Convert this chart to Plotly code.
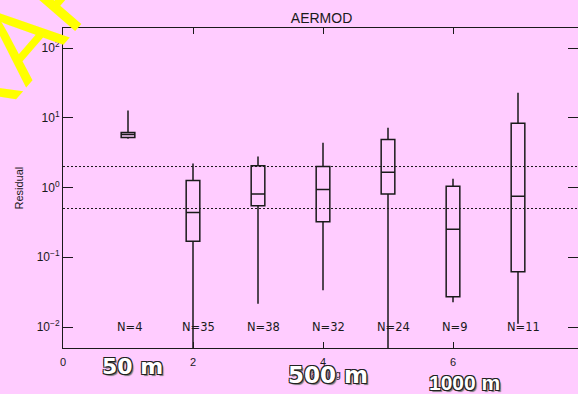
import plotly.graph_objects as go

# ---- data ----
groups = [1, 2, 3, 4, 5, 6, 7]
whisker_high = [12.7, 2.21, 2.78, 4.4, 7.2, 1.33, 22.8]
q3_vals = [6.15, 1.26, 2.05, 2.0, 4.88, 1.04, 8.35]
medians = [5.75, 0.44, 0.81, 0.94, 1.66, 0.252, 0.75]
q1_vals = [5.2, 0.17, 0.547, 0.322, 0.81, 0.0271, 0.0618]
whisker_low = [5.0, 0.001, 0.0215, 0.0337, 0.001, 0.0227, 0.0111]
counts = [4, 35, 38, 32, 24, 9, 11]
ref_lines = [2.0, 0.5]
xticks = [0, 2, 4, 6]
yticks = [1e-2, 1e-1, 1e0, 1e1, 1e2]
ytick_text = ["10<sup>−2</sup>", "10<sup>−1</sup>", "10<sup>0</sup>",
              "10<sup>1</sup>", "10<sup>2</sup>"]
distance_labels = ["50 m", "500 m", "1000 m"]

BG = "#FFCCFF"
INK = "#1a1a1a"
SANS = "Liberation Sans, Arial, sans-serif"

fig = go.Figure()

fig.add_trace(go.Box(
    x=groups, q1=q1_vals, median=medians, q3=q3_vals,
    lowerfence=whisker_low, upperfence=whisker_high,
    boxpoints=False, width=0.21, whiskerwidth=0,
    line=dict(color=INK, width=1.5), fillcolor="rgba(0,0,0,0)",
    showlegend=False, hoverinfo="skip"))

for v in ref_lines:
    fig.add_trace(go.Scatter(
        x=[0, 8], y=[v, v], mode="lines",
        line=dict(color=INK, width=1, dash="2px,2px"),
        showlegend=False, hoverinfo="skip"))

annotations = []
# yellow watermark (drawn first, behind other labels)
annotations.append(dict(
    x=-0.0944, y=0.936, xref="paper", yref="paper", text="DRAFT",
    showarrow=False, textangle=-49, xanchor="center", yanchor="middle",
    font=dict(family=SANS, size=100, color="#FFFF00")))

# N labels
for g, n in zip(groups, counts):
    annotations.append(dict(
        x=g, y=-2, xref="x", yref="y", text=f"N={n}", showarrow=False,
        xanchor="left", yanchor="middle", xshift=-13,
        font=dict(family="DejaVu Sans", size=11.5, color=INK)))

# axis titles
annotations.append(dict(
    x=0, y=0.5, xref="paper", yref="paper", text="Residual", showarrow=False,
    textangle=-90, xanchor="center", yanchor="middle", xshift=-44.5,
    font=dict(family=SANS, size=11, color=INK)))
annotations.append(dict(
    x=0.503, y=-0.084, xref="paper", yref="paper", text="Ranking",
    showarrow=False, xanchor="center", yanchor="middle",
    font=dict(family=SANS, size=10, color=INK)))

# distance labels (white, outlined)
shadow = ("-1px -1px 0 #222, 1px -1px 0 #222, -1px 1px 0 #222, "
          "1px 1px 0 #222, 2px 2px 1px #777")
dist_pos = [(0.135, -0.059, "DejaVu Sans", 22),
            (0.5136, -0.084, "DejaVu Sans", 23),
            (0.78, -0.109, "Liberation Sans", 21)]
for lbl, (px, py, fam, sz) in zip(distance_labels, dist_pos):
    annotations.append(dict(
        x=px, y=py, xref="paper", yref="paper", text=f"<b>{lbl}</b>",
        showarrow=False, xanchor="center", yanchor="middle",
        font=dict(family=fam, size=sz, color="white", shadow=shadow)))

fig.update_layout(
    width=578, height=394,
    margin=dict(l=63, r=0, t=28, b=46),
    paper_bgcolor=BG, plot_bgcolor=BG,
    title=dict(text="AERMOD", x=0.502, xref="paper", xanchor="center",
               y=1 - 18 / 394, yref="container", yanchor="middle",
               font=dict(family=SANS, size=14, color=INK)),
    annotations=annotations,
    xaxis=dict(range=[0, 515 / 65], tickvals=xticks, ticks="inside",
               ticklen=6, tickcolor=INK, showline=True, linecolor=INK,
               linewidth=1, mirror="ticks", showgrid=False, zeroline=False,
               ticklabelstandoff=4,
               tickfont=dict(family=SANS, size=11, color=INK)),
    yaxis=dict(type="log", range=[-2.301, 2.287], tickvals=yticks,
               ticktext=ytick_text, ticks="inside", ticklen=10,
               tickcolor=INK, showline=True, linecolor=INK, linewidth=1,
               mirror="ticks", showgrid=False, zeroline=False,
               tickfont=dict(family=SANS, size=12, color=INK)),
)

fig.write_html("out.html",
               config={"displayModeBar": False},
               post_script="document.body.style.margin='0px';"
                           "document.body.style.overflow='hidden';")
